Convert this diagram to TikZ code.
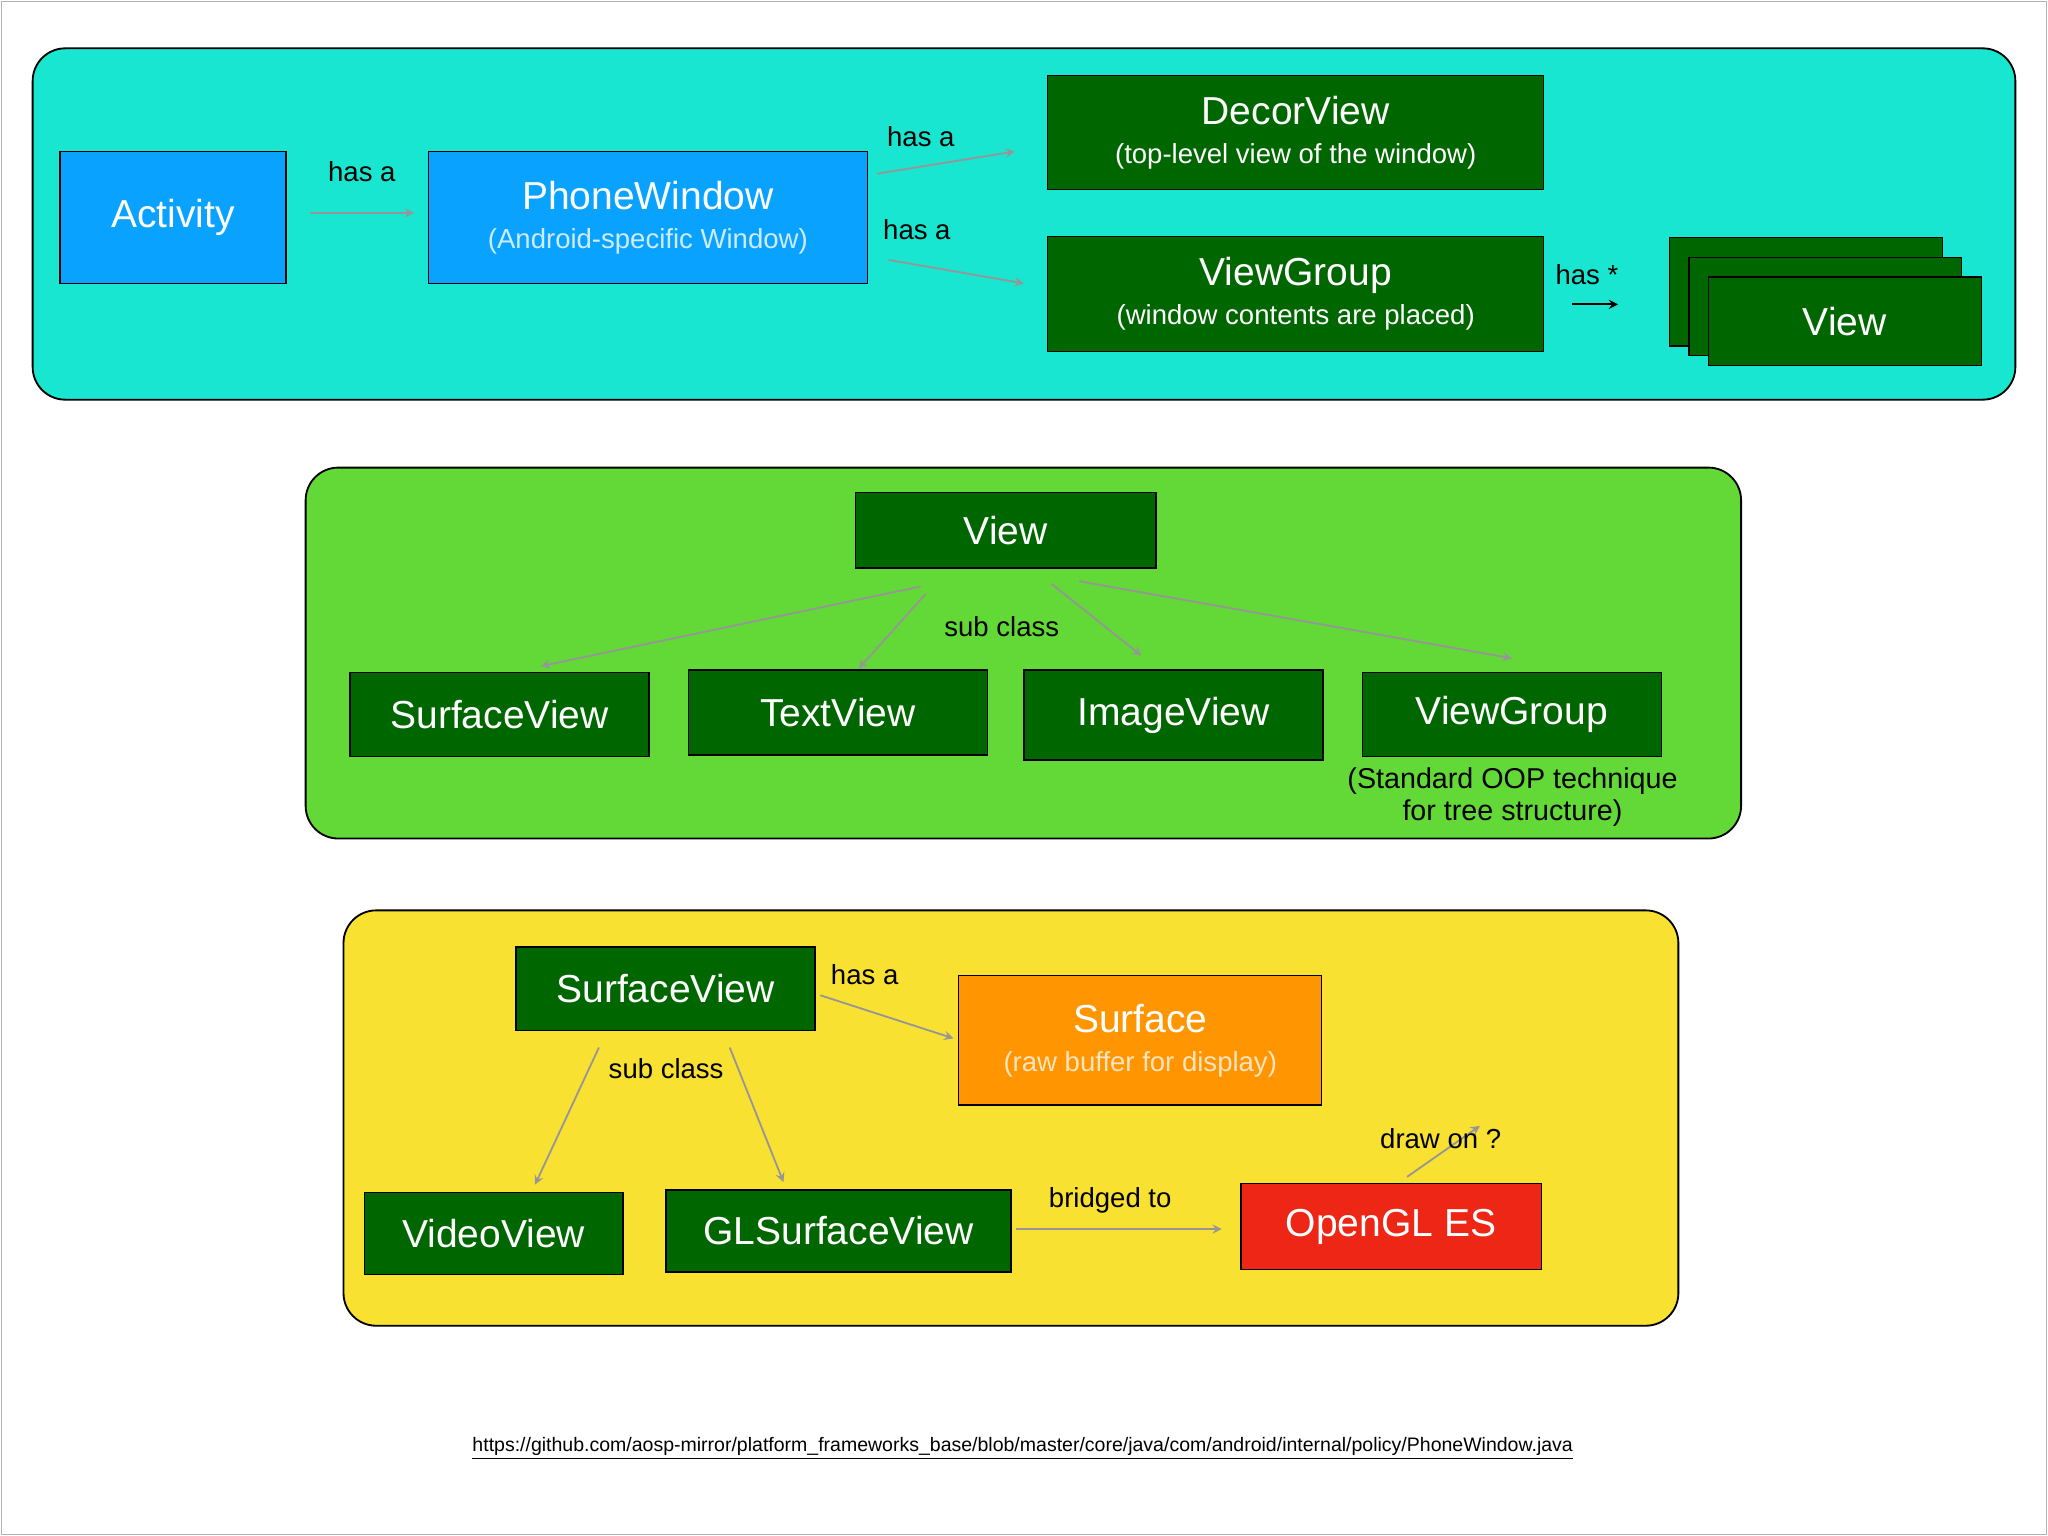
\documentclass[tikz,border=0pt]{standalone}
\usepackage{fontspec}
\setmainfont{Liberation Sans}
\usetikzlibrary{arrows}
\definecolor{cyanbg}{RGB}{24,230,208}
\definecolor{greenbg}{RGB}{98,217,54}
\definecolor{yellowbg}{RGB}{249,225,50}
\definecolor{darkgreen}{RGB}{0,102,0}
\definecolor{bluebox}{RGB}{10,162,255}
\definecolor{orangebox}{RGB}{255,149,0}
\definecolor{redbox}{RGB}{238,38,22}
\definecolor{arrowgray}{RGB}{150,150,150}
\newcommand{\subfont}{\fontsize{12}{14}\selectfont}
\begin{document}
\begin{tikzpicture}[
            x = 0.02cm, y = -0.02cm, % pixel units
            > = stealth, % arrow head style
            semithick % line style
        ]

        \tikzstyle{panel}=[draw = black, thick, rounded corners = 0.5cm]
        \tikzstyle{box}=[draw = black, fill = darkgreen, text = white,
            font = \fontsize{17}{19}\selectfont, align = center, inner sep = 0pt]
        \tikzstyle{lbl}=[font = \fontsize{12}{14}\selectfont, inner sep = 1pt]
        \tikzstyle{rel}=[->, draw = arrowgray, thick]

	\useasboundingbox (0,0) rectangle (1568,1176);
	\draw[gray!60] (1,1) rectangle (1567,1175);

	% window
	\draw[panel, fill = cyanbg] (25,37) rectangle (1543,306);
	\node[box, fill = bluebox, minimum width = 3.46cm, minimum height = 2.02cm] (act) at (132.5,166.5) {Activity};
	\node[box, fill = bluebox, minimum width = 6.72cm, minimum height = 2.02cm] (pw) at (496,166.5)
	    {PhoneWindow\\[-2pt]{\subfont\color{white!80!bluebox}(Android-specific Window)}};
	\node[box, minimum width = 7.6cm, minimum height = 1.74cm] (decor) at (992,101.5)
	    {DecorView\\[-2pt]{\subfont(top-level view of the window)}};
	\node[box, minimum width = 7.6cm, minimum height = 1.76cm] (vg) at (992,225)
	    {ViewGroup\\[-2pt]{\subfont(window contents are placed)}};
	\node[box, minimum width = 4.18cm, minimum height = 1.66cm] (v1) at (1382.5,223.5) {};
	\node[box, minimum width = 4.18cm, minimum height = 1.5cm] (v2) at (1397.5,234.5) {};
	\node[box, minimum width = 4.18cm, minimum height = 1.36cm] (v3) at (1412.5,246) {View};

	\draw[rel] ([xshift = 10]act.east |- 0,163) -- node[lbl, above = 12pt, black] {has a} ([xshift = -6]pw.west |- 0,163);
	\draw[rel] ([xshift = 4]pw.east |- 0,133) -- ([xshift = -14]decor.west |- 0,116);
	\node[lbl] at (705,105) {has a};
	\draw[rel] ([xshift = 9]pw.east |- 0,199) -- ([xshift = -10]vg.west |- 0,217);
	\node[lbl] at (702,176) {has a};
	\draw[->, thick] ([xshift = 12]vg.east |- 0,233) -- ([xshift = -22]v1.west |- 0,233);
	\node[lbl] at (1215,210) {has *};

	% class hierarchy
	\draw[panel, fill = greenbg] (234,358) rectangle (1333,642);
	\node[box, minimum width = 4.6cm, minimum height = 1.16cm] (view) at (770,406) {View};
	\node[box, minimum width = 4.58cm, minimum height = 1.28cm] (sv) at (382.5,547) {SurfaceView};
	\node[box, minimum width = 4.58cm, minimum height = 1.3cm] (tv) at (641.5,545.5) {TextView};
	\node[box, minimum width = 4.58cm, minimum height = 1.38cm] (iv) at (898.5,547.5) {ImageView};
	\node[box, minimum width = 4.58cm, minimum height = 1.28cm] (vg2) at (1157.5,547) {ViewGroup};
	\node[lbl, align = center, font = \fontsize{12.5}{14}\selectfont] (oop) at (1158,610)
	    {(Standard OOP technique\\for tree structure)};

	\draw[rel] ([xshift = -37]view.south |- 0,449) -- ([xshift = 18]sv.north |- 0,510);
	\draw[rel] ([xshift = -35]view.south |- 0,455) -- ([xshift = 9]tv.north |- 0,512);
	\draw[rel] ([xshift = 20]view.south |- 0,447) -- ([xshift = -14]iv.north |- 0,502);
	\draw[rel] ([xshift = 32]view.south |- 0,445) -- (vg2.north |- 0,504);
	\node[lbl] at (767,480) {sub class};

	% surface
	\draw[panel, fill = yellowbg] (263,697) rectangle (1285,1015);
	\node[box, minimum width = 4.58cm, minimum height = 1.28cm] (sv2) at (509.5,757) {SurfaceView};
	\node[box, fill = orangebox, minimum width = 5.56cm, minimum height = 1.98cm] (surf) at (873,796.5)
	    {Surface\\[-2pt]{\subfont\color{white!75!orangebox}(raw buffer for display)}};
	\node[box, minimum width = 3.96cm, minimum height = 1.26cm] (vv) at (378,944.5) {VideoView};
	\node[box, minimum width = 5.28cm, minimum height = 1.26cm] (gl) at (642,942.5) {GLSurfaceView};
	\node[box, fill = redbox, minimum width = 4.6cm, minimum height = 1.32cm] (ogl) at (1065,939) {OpenGL ES};

	\draw[rel] ([xshift = 2]sv2.east |- 0,762) -- ([xshift = -2]surf.west |- 0,795);
	\node[lbl] at (662,746) {has a};
	\draw[rel] ([xshift = -29]sv2.south |- 0,802) -- ([xshift = 18]vv.north |- 0,907);
	\draw[rel] ([xshift = 28]sv2.south |- 0,802) -- ([xshift = -24]gl.north |- 0,905);
	\node[lbl] at (510,818) {sub class};
	\draw[rel] ([xshift = 2]gl.east |- 0,941) -- ([xshift = -8]ogl.west |- 0,941);
	\node[lbl] at (850,919) {bridged to};
	\draw[rel] ([xshift = 7]ogl.north |- 0,901) -- ([xshift = 148]surf.south |- 0,862);
	\node[lbl] at (1103,872) {draw on ?};

	\node[font = \fontsize{8.5}{10}\selectfont] (url) at (783,1109)
	    {\underline{https://github.com/aosp-mirror/platform\_frameworks\_base/blob/master/core/java/com/android/internal/policy/PhoneWindow.java}};

    \end{tikzpicture}
\end{document}
